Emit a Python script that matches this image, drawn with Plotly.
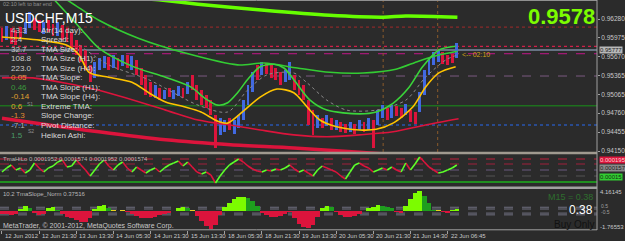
import plotly.graph_objects as go

BG = "#2b2b2b"
W, H = 625, 241
PLOT_W, PLOT_H = 603, 230   # plot area (right price scale 22px, time strip 11px)

# ---------------- data ----------------
# one sample every 8 M15 bars
sample_bar = list(range(0, 785, 8))
candle_hi = [0.9614,0.9617,0.9614,0.9610,0.9615,0.9623,0.9639,0.9630,0.9626,0.9623,
             0.9626,0.9620,0.9623,0.9618,0.9614,0.9607,0.9594,0.9586,0.9578,0.9554,
             0.9559,0.9565,0.9568,0.9567,0.9570,0.9565,0.9570,0.9570,0.9568,0.9562,
             0.9549,0.9538,0.9526,0.9521,0.9517,0.9513,0.9517,0.9513,0.9520,0.9517,
             0.9526,0.9538,0.9521,0.9513,0.9505,0.9497,0.9473,0.9468,0.9465,0.9468,
             0.9465,0.9473,0.9497,0.9521,0.9542,0.9554,0.9559,0.9557,0.9554,0.9549,
             0.9542,0.9546,0.9559,0.9538,0.9530,0.9521,0.9497,0.9481,0.9473,0.9468,
             0.9473,0.9468,0.9465,0.9462,0.9459,0.9462,0.9459,0.9465,0.9462,0.9468,
             0.9465,0.9481,0.9489,0.9484,0.9489,0.9488,0.9484,0.9491,0.9481,0.9478,
             0.9510,0.9546,0.9565,0.9575,0.9578,0.9575,0.9570,0.9572,0.9589]
candle_lo = [0.9591,0.9594,0.9588,0.9586,0.9597,0.9604,0.9614,0.9610,0.9607,0.9604,
             0.9607,0.9601,0.9601,0.9594,0.9591,0.9581,0.9570,0.9559,0.9546,0.9526,
             0.9533,0.9546,0.9549,0.9546,0.9549,0.9546,0.9552,0.9549,0.9546,0.9538,
             0.9521,0.9505,0.9502,0.9500,0.9497,0.9499,0.9502,0.9499,0.9504,0.9500,
             0.9507,0.9513,0.9497,0.9489,0.9484,0.9473,0.9420,0.9441,0.9446,0.9449,
             0.9442,0.9452,0.9465,0.9489,0.9510,0.9530,0.9538,0.9539,0.9533,0.9530,
             0.9521,0.9526,0.9530,0.9513,0.9505,0.9497,0.9457,0.9441,0.9452,0.9452,
             0.9455,0.9449,0.9449,0.9446,0.9444,0.9446,0.9442,0.9449,0.9446,0.9449,
             0.9420,0.9457,0.9468,0.9465,0.9468,0.9471,0.9468,0.9473,0.9462,0.9459,
             0.9478,0.9505,0.9538,0.9554,0.9559,0.9555,0.9554,0.9557,0.9565]
candle_dir = list("RBRRRBBRRB" "RRBRRRRRRR" "BBBRBRBRBR" "RRRBRBRBBR" "BRRRRRRBBR"
                  "BBBBBRBRRR" "RBBRRRRRBR" "BRBRRBRBRB" "RBBRBRRBRR" "BBBBBRRRB")

yellow_bar = [0, 31, 65, 111, 133, 150, 184, 224, 253, 282, 316, 343, 372, 389, 418, 445, 474,
              503, 526, 548, 577, 616, 645, 674, 708, 730, 753, 782]
yellow_val = [0.9599, 0.9597, 0.9594, 0.9586, 0.9570, 0.9542, 0.9534, 0.9526, 0.9509, 0.9494,
              0.9486, 0.9478, 0.9463, 0.9460, 0.9481, 0.9502, 0.9515, 0.9509, 0.9486, 0.9465,
              0.9454, 0.9449, 0.9450, 0.9460, 0.9486, 0.9518, 0.9541, 0.9551]
band_bar = [73, 90, 111, 138, 167, 224, 282, 326, 350, 372, 389, 406, 423, 445, 469, 486, 503,
            531, 560, 616, 645, 674, 701, 725, 753, 782]
band_val = [0.9675, 0.9659, 0.9638, 0.9610, 0.9581, 0.9552, 0.9534, 0.9518, 0.9500, 0.9489,
            0.9493, 0.9509, 0.9530, 0.9551, 0.9555, 0.9549, 0.9530, 0.9497, 0.9481, 0.9475,
            0.9478, 0.9492, 0.9517, 0.9551, 0.9578, 0.9584]
slow_bar = [99, 133, 167, 235, 316, 406, 452, 509, 565, 623, 679, 718, 753, 785]
slow_val = [0.9667, 0.9646, 0.9626, 0.9597, 0.9573, 0.9554, 0.9557, 0.9549, 0.9542, 0.9541,
            0.9547, 0.9560, 0.9570, 0.9576]
top_bar = [235, 270, 338, 452, 565, 657, 696, 785]
top_val = [0.9662, 0.9659, 0.9652, 0.9642, 0.9634, 0.9631, 0.9633, 0.9631]
lowband_bar = [0, 53, 167, 282, 338, 406, 445, 503, 560, 616, 674, 730, 787]
lowband_val = [0.9533, 0.9533, 0.9513, 0.9481, 0.9465, 0.9455, 0.9449, 0.9441, 0.9438, 0.9441,
               0.9446, 0.9457, 0.9467]
thick_bar = [0, 167, 282, 394, 503, 616, 679]
thick_val = [0.9468, 0.9446, 0.9433, 0.9425, 0.9420, 0.9413, 0.9409]
mid_bar = [133, 184, 253, 338, 389, 423, 457, 503, 526, 560, 594, 645, 696, 730, 765, 785]
mid_val = [0.9586, 0.9554, 0.9530, 0.9489, 0.9478, 0.9513, 0.9538, 0.9541, 0.9525, 0.9497,
           0.9481, 0.9481, 0.9497, 0.9534, 0.9562, 0.9570]

level_val = [0.9615, 0.9584, 0.9578, 0.9572, 0.9536, 0.9488, 0.9457]
level_col = ["#8b2a2a", "#d0204a", "#7d8ca3", "#c0168a", "#7a5a80", "#1e701e", "#2a55b0"]
level_dash = ["dot", "dot", "solid", "dash", "dash", "solid", "dot"]
vline_bar = [657, 751]

osc_val = [10,14,17,12,14,9,12,19,14,10, 14,16,20,22,15,16,22,17,12,6,
           12,18,22,16,12,17,20,14,10,15, 12,9,12,14,10,14,17,19,21,16,
           20,15,10,8,10,7,-1,6,12,17, 20,23,20,16,13,11,10,12,11,13,
           12,14,17,13,10,12,9,6,12,16, 14,12,10,6,3,10,17,19,16,14,
           10,12,14,12,15,12,10,19,12,18, 25,20,15,12,9,10,12,14,17]
osc_levels = [23, 18, 12, 6]
osc_level_col = ["#c0203c", "#a0203c", "#6a5a80", "#555555"]

hist_val = [-0.5,-0.6,-0.7,-0.5,0.3,0.8,0.5,-0.4,-0.8,-0.5, 0.4,0.6,0.2,-0.6,-1.0,-1.3,-1.6,-1.9,-2.0,-1.2,
            0.3,0.8,0.9,0.4,0.1,-0.1,0.1,-0.2,-0.5,-0.9, -1.2,-1.3,-1.2,-1.0,-0.8,-0.6,-0.4,-0.1,0.4,0.6,
            0.5,0.1,-0.9,-1.8,-2.6,-3.1,-2.5,-0.8,0.6,1.4, 2.0,2.3,2.3,2.1,1.6,0.8,-0.3,-0.8,-1.0,-1.1,
            -0.9,-0.5,-0.2,-1.2,-2.2,-2.8,-3.0,-2.4,-1.0,0.5, 0.8,0.6,-0.2,-0.7,-1.0,-1.1,-0.9,-0.5,-0.1,0.5,
            0.7,0.9,0.8,0.7,0.4,-0.2,-0.3,0.8,2.0,3.0, 3.3,2.5,1.3,0.2,0.1,-0.2,-0.3,0.2,0.3]
hist_levels = [0.6, 0.3, -0.4, -0.7]

time_tick_bar = [0, 64, 128, 192, 256, 320, 384, 448, 512, 576, 640, 704, 768]
time_tick_text = ["12 Jun 2012", "12 Jun 21:30", "13 Jun 13:30", "14 Jun 05:30", "14 Jun 21:30",
                  "15 Jun 13:30", "18 Jun 05:30", "18 Jun 21:30", "19 Jun 13:30", "20 Jun 05:30",
                  "20 Jun 21:30", "21 Jun 14:30", "22 Jun 06:45"]
price_ticks = [0.96280, 0.95975, 0.95670, 0.95365, 0.95065, 0.94760, 0.94455, 0.94150]
price_tick_text = ["0.96280", "0.95975", "0.95670", "0.95365", "0.95065", "0.94760", "0.94455", "0.94150"]

info_labels = ["Atr(14 day):", "Spread:", "TMA Size:", "TMA Size (H1):", "TMA Size (H4):", "TMA Slope:",
               "TMA Slope (H1):", "TMA Slope (H4):", "Extreme TMA:", "Slope Change:", "Pivot Distance:",
               "Heiken Ashi:"]
info_values = ["43.3", "2.4", "32.7", "108.8", "223.0", "0.05", "0.46", "-0.14", "0.6", "-1.3", "-7.1", "1.5"]
info_colors = ["#c8c8c8"] * 5 + ["#e09030", "#3c9a3c", "#e0a030", "#e0a030", "#e08a30", "#b0b0b0", "#4a9a6a"]

# ---------------- layout helpers ----------------
def py(ypx):
    return (PLOT_H - ypx) / PLOT_H

def pxx(xpx):
    return xpx / PLOT_W

MAIN_DOM = [py(152), 1]
P1_DOM = [py(187), py(154.5)]
P2_DOM = [py(229.5), py(188.5)]
XR = [-3.41, 1025.6]
FONT = "Liberation Sans, Arial, sans-serif"

fig = go.Figure()

# candles
for d, col in (("R", "#dc143c"), ("B", "#4169e1")):
    xs = [b for b, k in zip(sample_bar, candle_dir) if k == d]
    lo = [l for l, k in zip(candle_lo, candle_dir) if k == d]
    hi = [h for h, k in zip(candle_hi, candle_dir) if k == d]
    fig.add_trace(go.Bar(x=xs, y=[h - l for h, l in zip(hi, lo)], base=lo, width=5,
                         marker=dict(color=col, line=dict(width=0)), yaxis="y", hoverinfo="skip"))

def line(xs, ys, col, w, dash="solid", shape="spline", yaxis="y"):
    fig.add_trace(go.Scatter(x=xs, y=ys, mode="lines", yaxis=yaxis, hoverinfo="skip",
                             line=dict(color=col, width=w, dash=dash, shape=shape, smoothing=0.8)))

line(mid_bar, mid_val, "#8a8a8a", 1, dash="dot")
line(thick_bar, thick_val, "#dc143c", 3.5)
line(lowband_bar, lowband_val, "#dc143c", 1.6)
line(yellow_bar, yellow_val, "#ffc400", 1.6)
line(slow_bar, slow_val, "#33cc33", 1.6)
line(band_bar, band_val, "#3ad43a", 1.6)
line(top_bar, top_val, "#66ff00", 3.5)

# oscillator (panel 1): green when rising, red when falling
gx, gy, rx, ry = [], [], [], []
for i in range(len(osc_val) - 1):
    seg_x = [sample_bar[i], sample_bar[i + 1], None]
    seg_y = [osc_val[i], osc_val[i + 1], None]
    if osc_val[i + 1] >= osc_val[i]:
        gx += seg_x; gy += seg_y
    else:
        rx += seg_x; ry += seg_y
fig.add_trace(go.Scatter(x=rx, y=ry, mode="lines", yaxis="y2", hoverinfo="skip",
                         line=dict(color="#dc143c", width=1.6)))
fig.add_trace(go.Scatter(x=gx, y=gy, mode="lines", yaxis="y2", hoverinfo="skip",
                         line=dict(color="#5cff2a", width=1.6)))

# histogram (panel 2)
hcol = []
for i, v in enumerate(hist_val):
    prev = hist_val[i - 1] if i else v
    if abs(v) <= 0.1:
        hcol.append("#e8d020")
    elif v > 0:
        hcol.append("#7cfc00" if v >= prev else "#1e9e1e")
    else:
        hcol.append("#dc143c")
fig.add_trace(go.Bar(x=sample_bar, y=hist_val, width=8, yaxis="y3", hoverinfo="skip",
                     marker=dict(color=hcol, line=dict(width=0))))

shapes = []
# main horizontal levels
for v, c, d in zip(level_val, level_col, level_dash):
    shapes.append(dict(type="line", xref="paper", yref="y", x0=0, x1=1, y0=v, y1=v,
                       line=dict(color=c, width=1.3 if d != "dash" else 1, dash=d), layer="below"))
for b in vline_bar:
    shapes.append(dict(type="line", xref="x", yref="paper", x0=b, x1=b, y0=MAIN_DOM[0], y1=1,
                       line=dict(color="#8b5a2b", width=1, dash="dot"), layer="below"))
for v, c in zip(osc_levels, osc_level_col):
    shapes.append(dict(type="line", xref="paper", yref="y2", x0=0, x1=1, y0=v, y1=v,
                       line=dict(color=c, width=1, dash="dash"), layer="below"))
shapes.append(dict(type="line", xref="paper", yref="y2", x0=0, x1=1, y0=0, y1=0,
                   line=dict(color="#1f8f1f", width=2), layer="below"))
for v in hist_levels:
    shapes.append(dict(type="line", xref="paper", yref="y3", x0=0, x1=1, y0=v, y1=v,
                       line=dict(color="#707080", width=1, dash="dash"), layer="below"))
# panel separators / borders
for ypx, c, w in ((0.5, "#909090", 1), (153, "#a09a90", 2.5), (187.8, "#a0a0a0", 2.5), (229.8, "#a0a0a0", 1)):
    shapes.append(dict(type="line", xref="paper", yref="paper", x0=0, x1=1, y0=py(ypx), y1=py(ypx),
                       line=dict(color=c, width=w)))
shapes.append(dict(type="line", xref="paper", yref="paper", x0=1, x1=1, y0=py(230), y1=1,
                   line=dict(color="#a0a0a0", width=1)))

ann = []
def text(xpx, ypx, s, size, color, anchor="left", bold=False, bg=None, family=FONT):
    a = dict(xref="paper", yref="paper", x=pxx(xpx), y=py(ypx), text=("<b>%s</b>" % s) if bold else s,
             showarrow=False, xanchor=anchor, yanchor="middle",
             font=dict(family=family, size=size, color=color), borderpad=0)
    if bg:
        a["bgcolor"] = bg
    ann.append(a)

text(2, 4, "02:10 left to bar end", 5.5, "#909090")
text(4, 17.5, "USDCHF,M15", 14, "#ffffff")
text(602, 16, "0.9578", 22, "#7cfc00", anchor="right", bold=True)
text(466, 55, "&lt;-- 02:10", 7, "#d4a017")
for k, (lab, val, vc) in enumerate(zip(info_labels, info_values, info_colors)):
    yy = 30 + 9.55 * k
    text(40, yy, lab, 8, "#d8d8d8")
    text(10, yy, val, 8, vc)
text(26, 104, "S1", 5, "#909090")
text(27, 131, "S2", 5, "#909090")
text(2, 159, "TmaHiLo 0.0001952 0.0001574 0.0001952 0.0001574", 6, "#b8b8b8")
text(2, 194, "10.2 TmaSlope_Norm 0.37516", 6, "#b8b8b8")
text(2, 225.5, "MetaTrader, © 2001-2012, MetaQuotes Software Corp.", 7, "#c8c8c8")
text(600, 197, "M15 = 0.38", 9, "#2e6e2e", anchor="right")
text(600, 210, "0.38", 12, "#ffffff", anchor="right")
text(602, 224, "Buy Only", 10, "#111111", anchor="right")
# right-scale labels of the indicator panels
text(605, 50, "0.95777", 6, "#202020", bg="#b8b8b8")
text(605, 160, "0.000195", 6, "#ffd0d0", bg="#dc143c")
text(605, 168, "0.000157", 6, "#202020", bg="#8a8a8a")
text(605, 177, "0.00015", 6, "#103010", bg="#32cd32")
text(605, 192, "4.16145", 6, "#c8c8c8")
text(606, 206, "0.5", 5, "#a0a0a0")
text(606, 212, "-0.5", 5, "#a0a0a0")
text(605, 227, "-1.76553", 6, "#c8c8c8")
# time axis labels
for b, t in zip(time_tick_bar, time_tick_text):
    ann.append(dict(xref="x", yref="paper", x=b, y=py(236), text=t, showarrow=False,
                    xanchor="left", yanchor="middle", xshift=1,
                    font=dict(family=FONT, size=6, color="#c8c8c8")))

fig.update_layout(
    width=W, height=H, margin=dict(l=0, r=W - PLOT_W, t=0, b=H - PLOT_H),
    paper_bgcolor=BG, plot_bgcolor=BG, showlegend=False, barmode="overlay", bargap=0,
    shapes=shapes, annotations=ann,
    xaxis=dict(domain=[0, 1], range=XR, anchor="y3", tickvals=time_tick_bar, showticklabels=False,
               ticks="outside", ticklen=3, tickcolor="#a0a0a0", showgrid=False, zeroline=False,
               showline=False, fixedrange=True),
    yaxis=dict(domain=MAIN_DOM, range=[0.94134, 0.96587], side="right", tickvals=price_ticks,
               ticktext=price_tick_text, tickfont=dict(family=FONT, size=6.5, color="#c8c8c8"),
               ticks="outside", ticklen=2, tickcolor="#a0a0a0", showgrid=False, zeroline=False,
               fixedrange=True),
    yaxis2=dict(domain=P1_DOM, range=[-5, 27.5], showticklabels=False, showgrid=False,
                zeroline=False, fixedrange=True),
    yaxis3=dict(domain=P2_DOM, range=[-3.2, 3.8], showticklabels=False, showgrid=False,
                zeroline=False, fixedrange=True),
)

fig.write_html("out.html", include_plotlyjs=True, config={"displayModeBar": False, "staticPlot": True})
